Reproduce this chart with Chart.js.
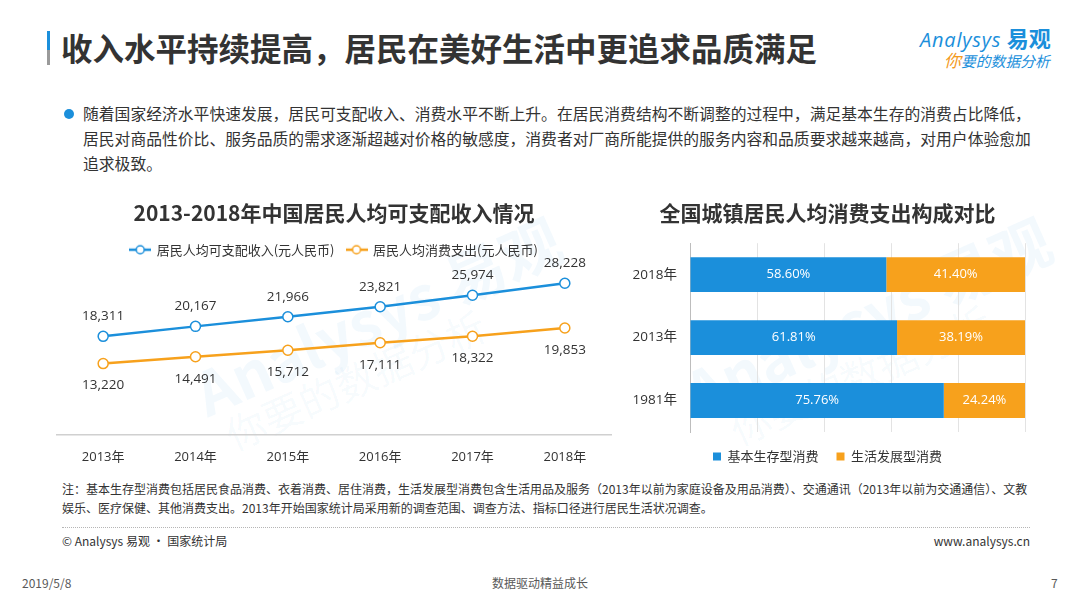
<!DOCTYPE html>
<html>
<head>
<meta charset="utf-8">
<script src="https://cdn.jsdelivr.net/npm/chart.js@4.4.1/dist/chart.umd.min.js"></script>
<style>
  body { margin: 0; width: 1080px; height: 607px; position: relative; overflow: hidden; background: #fff;
         font-family: "Noto Sans CJK SC", "Noto Sans", sans-serif; color: #333; }
  .abs { position: absolute; white-space: nowrap; }
  #titleBar { left: 47px; top: 31px; width: 3px; height: 34px; background: linear-gradient(#1b8fdb 55%, #9a9a9a 55%); }
  #title { left: 61px; top: 26px; font-size: 31.5px; font-weight: 700; line-height: 42px; color: #333; }
  #logo1 { left: 920px; top: 23px; font-size: 21px; line-height: 28px; color: #1b8fdb; font-family: "Open Sans", "Noto Sans CJK SC"; }
  #logo1 i { font-style: italic; font-size: 20px; letter-spacing: 0.8px; }
  #logo1 b { font-family: "Noto Sans CJK SC"; font-weight: 700; font-size: 22px; }
  #logo2 { left: 944px; top: 50px; font-size: 14.8px; line-height: 20px; color: #1b8fdb; font-style: italic; }
  #logo2 span { color: #f39a1e; font-size: 17px; }
  #dot { left: 64px; top: 109px; width: 10px; height: 10px; border-radius: 50%; background: #1b8fdb; }
  #lead { left: 83px; top: 101px; font-size: 15.8px; line-height: 25px; color: #333; }
  #note { left: 62px; top: 480px; font-size: 12px; line-height: 18.5px; color: #333; }
  #sep { left: 62px; top: 527px; width: 968px; height: 0; border-top: 1px dotted #b5b5b5; }
  .foot { font-size: 12px; line-height: 16px; color: #333; }
  .bottom { font-size: 12px; line-height: 16px; color: #595959; }
  .wm { position: absolute; color: rgba(27, 143, 219, 0.05); font-weight: 700; white-space: nowrap; }
  .wm2 { position: absolute; color: rgba(27, 143, 219, 0.045); white-space: nowrap; }
  canvas { position: absolute; }
</style>
</head>
<body>
<div id="titleBar" class="abs"></div>
<div id="title" class="abs">收入水平持续提高，居民在美好生活中更追求品质满足</div>
<div id="logo1" class="abs"><i>Analysys</i> <b>易观</b></div>
<div id="logo2" class="abs"><span>你</span>要的数据分析</div>

<div id="dot" class="abs"></div>
<div id="lead" class="abs">随着国家经济水平快速发展，居民可支配收入、消费水平不断上升。在居民消费结构不断调整的过程中，满足基本生存的消费占比降低，<br>居民对商品性价比、服务品质的需求逐渐超越对价格的敏感度，消费者对厂商所能提供的服务内容和品质要求越来越高，对用户体验愈加<br>追求极致。</div>

<div class="wm" style="left:180px;top:270px;font-size:60px;transform:rotate(-24deg);">Analysys 易观</div>
<div class="wm2" style="left:215px;top:350px;font-size:40px;transform:rotate(-24deg);">你要的数据分析</div>
<div class="wm" style="left:670px;top:270px;font-size:60px;transform:rotate(-24deg);">Analysys 易观</div>
<div class="wm2" style="left:720px;top:345px;font-size:40px;transform:rotate(-24deg);">你要的数据分析</div>

<canvas id="lineChart" width="620" height="290" style="left:0;top:190px;width:620px;height:290px;"></canvas>
<canvas id="barChart" width="452" height="290" style="left:628px;top:190px;width:452px;height:290px;"></canvas>

<div id="note" class="abs">注：基本生存型消费包括居民食品消费、衣着消费、居住消费，生活发展型消费包含生活用品及服务（2013年以前为家庭设备及用品消费）、交通通讯（2013年以前为交通通信）、文教<br>娱乐、医疗保健、其他消费支出。2013年开始国家统计局采用新的调查范围、调查方法、指标口径进行居民生活状况调查。</div>
<div id="sep" class="abs"></div>
<div class="abs foot" style="left:62px;top:533px;">© Analysys 易观 · 国家统计局</div>
<div class="abs foot" style="right:50px;top:533px;">www.analysys.cn</div>
<div class="abs bottom" style="left:22px;top:575px;">2019/5/8</div>
<div class="abs bottom" style="left:0;width:1080px;text-align:center;top:575px;">数据驱动精益成长</div>
<div class="abs bottom" style="left:1051px;top:575px;">7</div>

<script>
// Line chart data
const years = ['2013年', '2014年', '2015年', '2016年', '2017年', '2018年'];
const incomeValues = [18311, 20167, 21966, 23821, 25974, 28228];
const spendValues = [13220, 14491, 15712, 17111, 18322, 19853];

// Stacked bar data
const barYears = ['2018年', '2013年', '1981年'];
const basicShares = [58.60, 61.81, 75.76];
const developShares = [41.40, 38.19, 24.24];

const BLUE = '#1b8fdb';
const ORANGE = '#f7a11c';
const CJK = '"Noto Sans CJK SC", "Noto Sans", sans-serif';

// small "-o-" marker used by the line chart legend
function lineMarker(color) {
  const c = document.createElement('canvas');
  c.width = 22; c.height = 12;
  const g = c.getContext('2d');
  g.strokeStyle = color; g.lineWidth = 2.5;
  g.beginPath(); g.moveTo(0, 6); g.lineTo(22, 6); g.stroke();
  g.fillStyle = '#fff'; g.lineWidth = 1.5;
  g.beginPath(); g.arc(11, 6, 4, 0, Math.PI * 2); g.fill(); g.stroke();
  return c;
}

// value labels above / below each point
const lineLabels = {
  id: 'lineLabels',
  afterDatasetsDraw(chart) {
    const ctx = chart.ctx;
    ctx.save();
    ctx.font = '13.5px "Open Sans", ' + CJK;
    ctx.fillStyle = '#333';
    ctx.textAlign = 'center';
    ctx.textBaseline = 'middle';
    chart.data.datasets.forEach((ds, i) => {
      const dy = i === 0 ? -20 : 22;
      chart.getDatasetMeta(i).data.forEach((pt, j) => {
        ctx.fillText(ds.data[j].toLocaleString('en-US'), pt.x, pt.y + dy);
      });
    });
    ctx.restore();
  }
};

new Chart(document.getElementById('lineChart').getContext('2d'), {
  type: 'line',
  data: {
    labels: years,
    datasets: [
      {
        label: '居民人均可支配收入(元人民币)',
        data: incomeValues,
        borderColor: BLUE,
        borderWidth: 2.5,
        pointRadius: 5,
        pointBorderWidth: 1.5,
        pointBackgroundColor: '#fff',
      },
      {
        label: '居民人均消费支出(元人民币)',
        data: spendValues,
        borderColor: ORANGE,
        borderWidth: 2.5,
        pointRadius: 5,
        pointBorderWidth: 1.5,
        pointBackgroundColor: '#fff',
      },
    ],
  },
  options: {
    responsive: false,
    animation: false,
    layout: { padding: { left: 57, right: 9, bottom: 0 } },
    plugins: {
      title: {
        display: true,
        text: '2013-2018年中国居民人均可支配收入情况',
        color: '#333',
        font: { family: CJK, size: 21, weight: 'bold' },
        padding: { top: 10, bottom: 6 },
      },
      legend: {
        labels: {
          color: '#333',
          font: { family: CJK, size: 13 },
          usePointStyle: true,
          pointStyleWidth: 20,
          padding: 12,
          generateLabels(chart) {
            return chart.data.datasets.map((ds, i) => ({
              text: ds.label,
              pointStyle: lineMarker(ds.borderColor),
              datasetIndex: i,
              fontColor: '#333',
              lineWidth: 0,
            }));
          },
        },
      },
      tooltip: { enabled: false },
    },
    scales: {
      x: {
        offset: true,
        grid: { display: false, drawTicks: false },
        border: { display: true, color: '#d0d0d0', width: 1.5 },
        ticks: { color: '#333', font: { family: '"Open Sans", ' + CJK, size: 13 }, padding: 15 },
      },
      y: {
        display: false,
        min: 0,
        max: 31400,
      },
    },
  },
  plugins: [lineLabels],
});

// percentage labels inside each bar segment
const barLabels = {
  id: 'barLabels',
  afterDatasetsDraw(chart) {
    const ctx = chart.ctx;
    ctx.save();
    ctx.font = '13px "Open Sans", ' + CJK;
    ctx.fillStyle = '#fff';
    ctx.textAlign = 'center';
    ctx.textBaseline = 'middle';
    chart.data.datasets.forEach((ds, i) => {
      chart.getDatasetMeta(i).data.forEach((bar, j) => {
        ctx.fillText(ds.data[j].toFixed(2) + '%', (bar.x + bar.base) / 2, bar.y);
      });
    });
    ctx.restore();
  }
};

new Chart(document.getElementById('barChart').getContext('2d'), {
  type: 'bar',
  data: {
    labels: barYears,
    datasets: [
      { label: '基本生存型消费', data: basicShares, backgroundColor: BLUE },
      { label: '生活发展型消费', data: developShares, backgroundColor: ORANGE },
    ],
  },
  options: {
    indexAxis: 'y',
    responsive: false,
    animation: false,
    barPercentage: 0.78,
    categoryPercentage: 0.71,
    layout: { padding: { left: 2, right: 55, bottom: 7 } },
    plugins: {
      title: {
        display: true,
        text: '全国城镇居民人均消费支出构成对比',
        color: '#333',
        font: { family: CJK, size: 21, weight: 'bold' },
        padding: { top: 10, bottom: 18 },
      },
      legend: {
        position: 'bottom',
        labels: {
          color: '#333',
          font: { family: CJK, size: 13 },
          boxWidth: 8,
          boxHeight: 8,
          padding: 18,
        },
      },
      tooltip: { enabled: false },
    },
    scales: {
      x: {
        stacked: true,
        min: 0,
        max: 100,
        ticks: { display: false, stepSize: 20 },
        grid: { color: '#e3e3e3', drawTicks: false },
        border: { display: false },
        afterFit(scale) { scale.height = 0; },
      },
      y: {
        stacked: true,
        grid: { display: false, drawTicks: false },
        border: { display: true, color: '#bdbdbd' },
        ticks: { color: '#333', font: { family: '"Open Sans", ' + CJK, size: 13.5 }, padding: 13 },
        afterFit(scale) { scale.width = 60; },
      },
    },
  },
  plugins: [barLabels],
});
</script>
</body>
</html>
